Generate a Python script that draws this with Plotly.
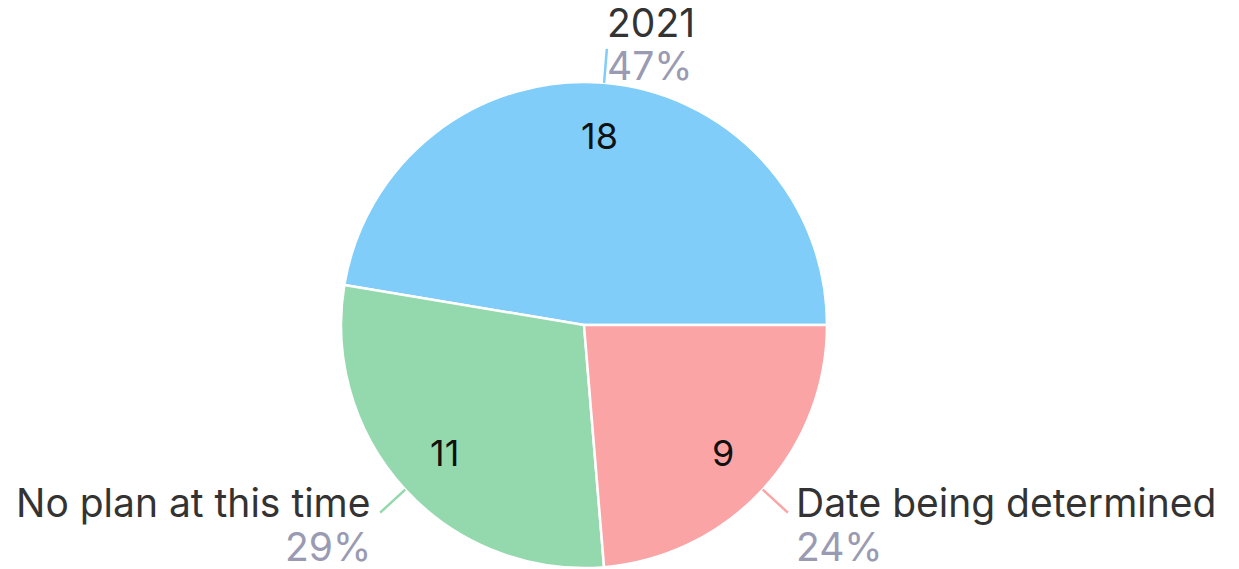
import math
import plotly.graph_objects as go

# slice data
labels = ["2021", "No plan at this time", "Date being determined"]
values = [18, 11, 9]
colors = ["#81cdfa", "#94d9ad", "#fba4a5"]

OFF = 8                      # default body margin of the html page
W, H = 1239 - OFF, 569 - OFF
cx, cy, R = 584 - OFF, 325 - OFF, 243   # pie centre / radius in pixels
FONT = "Inter"


def px(x, y):
    return x / W, 1 - y / H


total = sum(values)
# counterclockwise pies in plotly end the first slice at `rotation`
rotation = 90 - values[0] / total * 360

fig = go.Figure(go.Pie(
    labels=labels,
    values=values,
    sort=False,
    direction="counterclockwise",
    rotation=rotation,
    marker=dict(colors=colors, line=dict(color="white", width=2.5)),
    textinfo="none",
    hoverinfo="label+value+percent",
    showlegend=False,
    domain=dict(x=[(cx - R) / W, (cx + R) / W],
                y=[max(0, (H - cy - R) / H), (H - cy + R) / H]),
))

start = 0.0
annotations, shapes = [], []
for lab, val, col in zip(labels, values, colors):
    share = val / total
    mid = math.radians((start + share / 2) * 360)
    start += share
    c, s = math.cos(mid), -math.sin(mid)

    # value inside the slice
    vx, vy = px(cx + 0.78 * R * c, cy + 0.78 * R * s)
    annotations.append(dict(x=vx, y=vy, text=str(val), showarrow=False,
                            xanchor="center", yanchor="middle",
                            font=dict(size=36, color="#111111", family=FONT)))

    # leader line
    x0, y0 = cx + R * c, cy + R * s
    x1, y1 = cx + (R + 34) * c, cy + (R + 34) * s
    shapes.append(dict(type="line", xref="paper", yref="paper",
                       x0=px(x0, y0)[0], y0=px(x0, y0)[1], x1=px(x1, y1)[0], y1=px(x1, y1)[1],
                       line=dict(color=col, width=2.5)))

    pct = f"{round(share * 100)}%"
    if abs(c) < 0.3:
        anchor = "left"
        tx = x1 - 2
        py = (y0 + y1) / 2
        ny = py - 43
    else:
        anchor = "left" if c > 0 else "right"
        tx = x1 + (6 if c > 0 else -7)
        ny = y1 - 10
        py = ny + 44
    annotations.append(dict(x=tx / W, y=1 - ny / H, text=lab, showarrow=False,
                            xanchor=anchor, yanchor="middle",
                            font=dict(size=39, color="#333333", family=FONT)))
    annotations.append(dict(x=tx / W, y=1 - py / H, text=pct, showarrow=False,
                            xanchor=anchor, yanchor="middle",
                            font=dict(size=39, color="#9a9bb3", family=FONT)))

fig.update_layout(
    width=W, height=H,
    margin=dict(l=0, r=0, t=0, b=0),
    paper_bgcolor="white",
    plot_bgcolor="white",
    annotations=annotations,
    shapes=shapes,
)

fig.write_html("out.html")
